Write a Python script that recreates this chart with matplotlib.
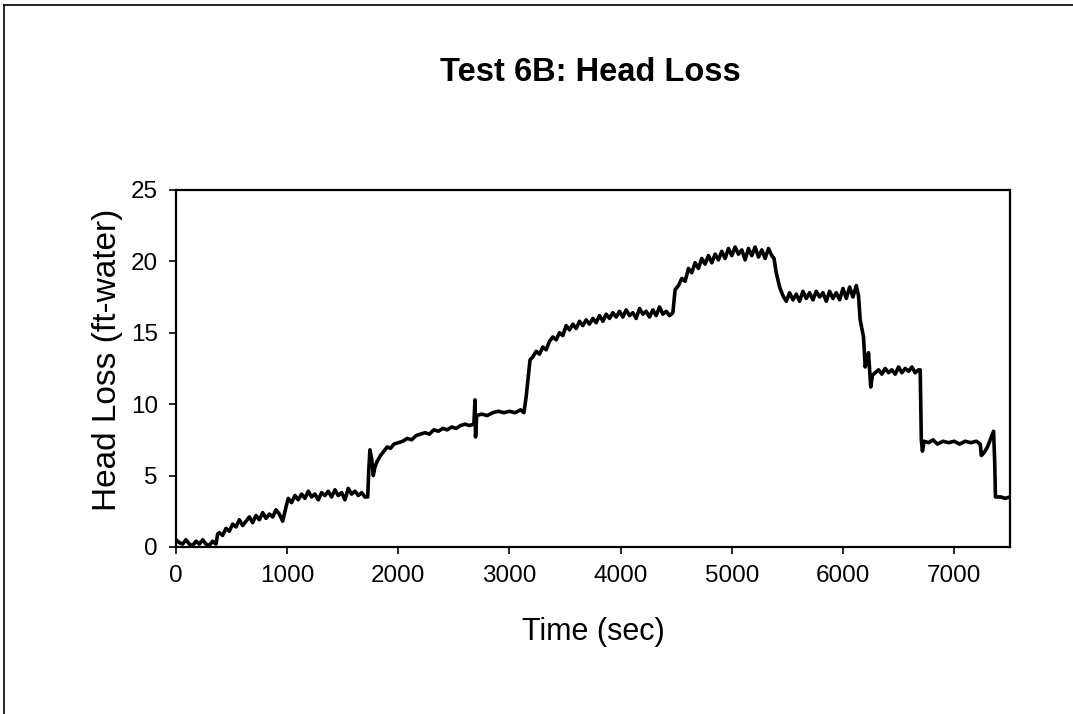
import matplotlib
matplotlib.use('Agg')
import matplotlib.pyplot as plt
from matplotlib.lines import Line2D

# values (time in s, head loss in ft of water)
time_sec = [0, 30, 60, 90, 120, 150, 180, 210, 240, 270, 300, 330, 360, 375,
            390, 420, 450, 480, 510, 540, 570, 600, 630, 660, 690, 720, 750, 780, 810, 840, 870, 900, 930, 960, 990,
            1010, 1040, 1070, 1100, 1130, 1160, 1190, 1220, 1250, 1280, 1310, 1340, 1370, 1400, 1430, 1460, 1490,
            1520, 1550, 1580, 1610, 1640, 1670, 1700, 1725,
            1735, 1745, 1760, 1775, 1790, 1810, 1840, 1870, 1900, 1930, 1960, 2000, 2040, 2080, 2120, 2160, 2200,
            2240, 2280, 2320, 2360, 2400, 2440, 2480, 2520, 2560, 2600, 2640, 2680, 2690, 2695, 2705,
            2750, 2800, 2850, 2900, 2950, 3000, 3050, 3100, 3130, 3150, 3170, 3185,
            3210, 3240, 3270, 3300, 3330, 3360, 3390, 3420, 3450, 3480, 3510, 3540, 3570, 3600, 3630, 3660, 3690,
            3720, 3750, 3780, 3810, 3840, 3870, 3900, 3930, 3960, 3990, 4020, 4050, 4080, 4110, 4140, 4170, 4200,
            4230, 4260, 4290, 4320, 4350, 4380, 4410, 4440, 4470, 4490,
            4520, 4550, 4580, 4610, 4640, 4670, 4700, 4730, 4760, 4790, 4820, 4850, 4880, 4910, 4940, 4970, 5000,
            5030, 5060, 5090, 5120, 5150, 5180, 5210, 5240, 5270, 5300, 5330, 5360, 5380, 5400, 5430,
            5460, 5490, 5520, 5550, 5580, 5610, 5640, 5670, 5700, 5730, 5760, 5790, 5820, 5850, 5880, 5910, 5940,
            5970, 6000, 6030, 6060, 6090, 6120, 6140, 6155, 6185, 6200, 6215, 6230, 6250, 6265,
            6290, 6320, 6350, 6380, 6410, 6440, 6470, 6500, 6530, 6560, 6590, 6620, 6650, 6680, 6695,
            6705, 6715, 6730, 6770, 6810, 6850, 6900, 6950, 7000, 7050, 7100, 7150, 7200, 7235,
            7245, 7270, 7300, 7330, 7355, 7365, 7372, 7420, 7460, 7500]

head_loss = [0.5, 0.3, 0.2, 0.5, 0.2, 0.1, 0.4, 0.2, 0.5, 0.2, 0.1, 0.4, 0.2, 0.9,
             1.0, 0.8, 1.3, 1.1, 1.6, 1.4, 1.9, 1.5, 1.8, 2.1, 1.7, 2.2, 1.9, 2.4, 2.0, 2.3, 2.1, 2.6, 2.3, 1.8, 2.8,
             3.4, 3.1, 3.6, 3.3, 3.7, 3.4, 3.9, 3.5, 3.7, 3.3, 3.8, 3.6, 3.9, 3.5, 4.0, 3.6, 3.8,
             3.3, 4.1, 3.7, 3.9, 3.6, 3.8, 3.5, 3.5,
             5.5, 6.8, 6.2, 5.0, 5.6, 6.0, 6.4, 6.7, 7.0, 6.9, 7.2, 7.3, 7.4, 7.6, 7.5, 7.8, 7.9,
             8.0, 7.9, 8.2, 8.1, 8.3, 8.2, 8.4, 8.3, 8.5, 8.6, 8.5, 8.6, 10.3, 7.7, 9.2,
             9.3, 9.2, 9.4, 9.5, 9.4, 9.5, 9.4, 9.6, 9.4, 10.5, 12.0, 13.1,
             13.3, 13.7, 13.5, 14.0, 13.8, 14.4, 14.7, 14.5, 15.0, 14.8, 15.5, 15.2, 15.6, 15.3, 15.8, 15.5, 15.9,
             15.6, 16.0, 15.7, 16.2, 15.8, 16.3, 16.0, 16.4, 16.1, 16.5, 16.1, 16.6, 16.2, 16.4, 16.0, 16.7, 16.3,
             16.5, 16.1, 16.6, 16.2, 16.8, 16.3, 16.5, 16.2, 16.4, 18.0,
             18.3, 18.8, 18.6, 19.5, 19.2, 19.9, 19.5, 20.2, 19.8, 20.4, 19.9, 20.5, 20.1, 20.7, 20.2, 20.9, 20.4,
             21.0, 20.5, 20.8, 20.1, 20.9, 20.4, 21.0, 20.3, 20.8, 20.2, 20.9, 20.4, 20.2, 19.2, 18.2,
             17.6, 17.2, 17.8, 17.3, 17.7, 17.2, 17.9, 17.4, 17.8, 17.3, 17.9, 17.5, 17.8, 17.2, 17.9, 17.4, 17.8,
             17.3, 18.1, 17.4, 18.2, 17.5, 18.3, 17.6, 15.9, 14.7, 12.6, 13.0, 13.6, 11.2, 12.0,
             12.2, 12.4, 12.1, 12.5, 12.2, 12.4, 12.1, 12.6, 12.2, 12.5, 12.3, 12.6, 12.2, 12.4, 12.4,
             7.5, 6.7, 7.4, 7.3, 7.5, 7.2, 7.4, 7.3, 7.4, 7.2, 7.4, 7.3, 7.4, 7.2,
             6.4, 6.6, 7.0, 7.6, 8.1, 6.0, 3.5, 3.5, 3.4, 3.5]

x_ticks = [0, 1000, 2000, 3000, 4000, 5000, 6000, 7000]
y_ticks = [0, 5, 10, 15, 20, 25]

plt.rcParams['font.family'] = ['Liberation Sans', 'DejaVu Sans']

fig = plt.figure(figsize=(10.73, 7.14), dpi=100)
ax = fig.add_axes([0.164, 0.234, 0.777, 0.500])

ax.plot(time_sec, head_loss, color='black', linewidth=2.6)

ax.set_xlim(0, 7500)
ax.set_ylim(0, 25)
ax.set_xticks(x_ticks)
ax.set_yticks(y_ticks)
ax.tick_params(direction='out', length=5, width=1.2, labelsize=17.5, pad=8)
for s in ax.spines.values():
    s.set_linewidth(1.6)

fig.text(0.550, 0.898, 'Test 6B: Head Loss', ha='center', va='center',
         fontsize=23.5, fontweight='bold')
fig.text(0.553, 0.115, 'Time (sec)', ha='center', va='center', fontsize=22)
fig.text(0.100, 0.496, 'Head Loss (ft-water)', ha='center', va='center',
         fontsize=24, rotation=90)

# outer chart-area frame (only top and left edges show in the scan)
fig.add_artist(Line2D([0.004, 0.004], [0.0, 0.993], transform=fig.transFigure,
                      color='black', linewidth=1.2))
fig.add_artist(Line2D([0.004, 1.0], [0.993, 0.993], transform=fig.transFigure,
                      color='black', linewidth=1.2))

fig.savefig('out.png', dpi=100)
